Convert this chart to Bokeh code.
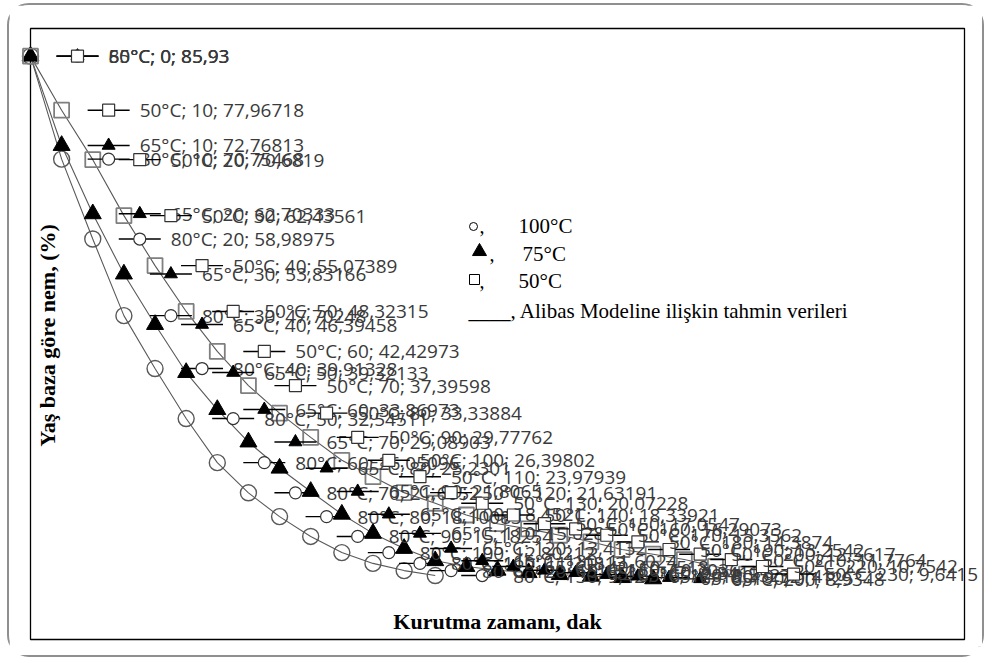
import math
from bokeh.plotting import figure
from bokeh.models import Range1d, ColumnDataSource, BoxAnnotation
from bokeh.embed import file_html
from bokeh.resources import INLINE
from bokeh.core.properties import value

# ---- data ----
series_names = ["80°C", "65°C", "50°C"]

time_80 = [0, 10, 20, 30, 40, 50, 60, 70, 80, 90, 100, 110, 120, 130]
moist_80 = [85.93, 70.75468, 58.98975, 47.70248, 39.91328, 32.54511, 26.05096,
            21.6052, 18.10083, 15.18254, 12.80212, 11.20813, 10.151, 9.42]

time_65 = [0, 10, 20, 30, 40, 50, 60, 70, 80, 90, 100, 110, 120, 130, 140,
           150, 160, 170, 180, 190, 200]
moist_65 = [85.93, 72.76813, 62.70333, 53.83166, 46.39458, 39.32133, 33.86973,
            29.08903, 25.2301, 21.8065, 18.4521, 15.6287, 13.4132, 11.6024,
            10.7518, 10.2036, 9.8412, 9.5527, 9.3214, 9.1125, 8.9348]

time_50 = [0, 10, 20, 30, 40, 50, 60, 70, 80, 90, 100, 110, 120, 130, 140,
           150, 160, 170, 180, 190, 200, 210, 220, 230]
moist_50 = [85.93, 77.96718, 70.6819, 62.43561, 55.07389, 48.32315, 42.42973,
            37.39598, 33.33884, 29.77762, 26.39802, 23.97939, 21.63191,
            20.07228, 18.33921, 17.0547, 16.29073, 15.3562, 14.3874, 13.2542,
            12.5617, 11.7764, 10.7542, 9.6415]

legend_texts = ["100°C", "75°C", "50°C"]
legend_model_text = "____, Alibas Modeline ilişkin tahmin verileri"
x_title = "Kurutma zamanı, dak"
y_title = "Yaş baza göre nem, (%)"

X_MAX = 300
Y_MAX = 90

# page geometry (outer rounded box at 7..988 x 3..661)
OX, OY = 7, 3
BW = 2
CX, CY = OX + BW, OY + BW          # canvas origin on page
W, H = 977, 654                    # canvas size (border drawn outside)
FL, FT, FR, FB = 30, 28, 964, 639  # visible plot-area box on page
# the drawing frame is a bit larger so the box lines and edge markers are not clipped
GL, GT, GB = 18, 22, 646
ML = GL - CX
MT = GT - CY
MB = (CY + H) - GB
MR = 0
px_x = (FR - FL) / X_MAX
px_y = (FB - FT) / Y_MAX
x_start = -(FL - GL) / px_x
x_end = ((CX + W) - FL) / px_x
y_start = -(GB - FB) / px_y
y_end = Y_MAX + (FT - GT) / px_y


def fmt(v):
    return ("%.10g" % v).replace(".", ",")


p = figure(width=W, height=H, x_range=Range1d(x_start, x_end),
           y_range=Range1d(y_start, y_end),
           output_backend="svg", toolbar_location=None,
           min_border_left=ML, min_border_right=MR, min_border_top=MT, min_border_bottom=MB)
p.xaxis.visible = False
p.yaxis.visible = False
p.xgrid.visible = False
p.ygrid.visible = False
p.outline_line_color = None
p.background_fill_color = "white"
p.border_fill_color = "white"
p.styles = {"border": "%dpx solid #8f8f8f" % BW, "border-radius": "22px",
            "margin-left": "%dpx" % OX, "margin-top": "%dpx" % OY}

# plot-area box
p.add_layout(BoxAnnotation(left=0, right=X_MAX, bottom=0, top=Y_MAX,
                           fill_alpha=0, line_color="black", line_alpha=1,
                           line_width=1.3, level="underlay"))

series = [
    (series_names[0], time_80, moist_80, "circle"),
    (series_names[1], time_65, moist_65, "triangle"),
    (series_names[2], time_50, moist_50, "square"),
]

for name, t, m, mk in series:
    p.line(t, m, line_color="#595959", line_width=1.1)

for name, t, m, mk in series:
    if mk == "circle":
        p.scatter(t, m, marker="circle", size=16, fill_color=None,
                  line_color="#595959", line_width=1.4)
    elif mk == "triangle":
        p.scatter(t, m, marker="triangle", size=17, fill_color="black",
                  line_color="black", line_width=1)
    else:
        p.scatter(t, m, marker="square", size=15, fill_color=None,
                  line_color="#7f7f7f", line_width=1.8)

key_x0 = 26 / px_x
key_x1 = 68 / px_x
key_xm = 47 / px_x
for name, t, m, mk in series:
    src = ColumnDataSource(dict(
        x=t, y=m,
        x0=[v + key_x0 for v in t], x1=[v + key_x1 for v in t],
        xm=[v + key_xm for v in t],
        label=["%s; %d; %s" % (name, tv, fmt(mv)) for tv, mv in zip(t, m)],
    ))
    p.segment(x0="x0", y0="y", x1="x1", y1="y", source=src,
              line_color="black", line_width=1.4)
    if mk == "circle":
        p.scatter(x="xm", y="y", source=src, marker="circle", size=12,
                  fill_color="white", line_color="#333333", line_width=1.2)
    elif mk == "triangle":
        p.scatter(x="xm", y="y", source=src, marker="triangle", size=13,
                  fill_color="black", line_color="black")
    else:
        p.scatter(x="xm", y="y", source=src, marker="square", size=12,
                  fill_color="white", line_color="#333333", line_width=1.2)
    p.text(x="x", y="y", text="label", source=src, x_offset=78,
           text_baseline="middle", text_align="left",
           text_font=value("Open Sans"), text_font_size="19px",
           text_color="#3a3a3a")


def dx(px):
    return (px - FL) / px_x


def dy(py):
    return (FB - py) / px_y


# legend text box
p.scatter([dx(473)], [dy(226)], marker="circle", size=8, fill_color=None,
          line_color="black", line_width=1)
p.scatter([dx(479)], [dy(251)], marker="triangle", size=14, fill_color="black",
          line_color="black")
p.scatter([dx(474)], [dy(279)], marker="square", size=10, fill_color=None,
          line_color="black", line_width=1)
serif = value("Liberation Serif")
p.text(x=[dx(479), dx(489), dx(479)], y=[dy(225), dy(253), dy(280)],
       text=[",", ",", ","], text_font=serif, text_font_size="20px",
       text_baseline="middle", text_color="black")
p.text(x=[dx(518), dx(522), dx(518)], y=[dy(225), dy(253), dy(280)],
       text=legend_texts, text_font=serif, text_font_size="21px",
       text_baseline="middle", text_color="black")
p.text(x=[dx(468)], y=[dy(310)], text=[legend_model_text], text_font=serif,
       text_font_size="21px", text_baseline="middle", text_color="black")

# axis titles (inside the box as in the reference)
p.text(x=[dx(47)], y=[dy(335)], text=[y_title], angle=math.pi / 2,
       text_align="center", text_baseline="middle", text_font=serif,
       text_font_size="22px", text_font_style="bold", text_color="black")
p.text(x=[dx(497)], y=[dy(621)], text=[x_title],
       text_align="center", text_baseline="middle", text_font=serif,
       text_font_size="22px", text_font_style="bold", text_color="black")

open("out.html", "w").write(file_html(p, INLINE))
